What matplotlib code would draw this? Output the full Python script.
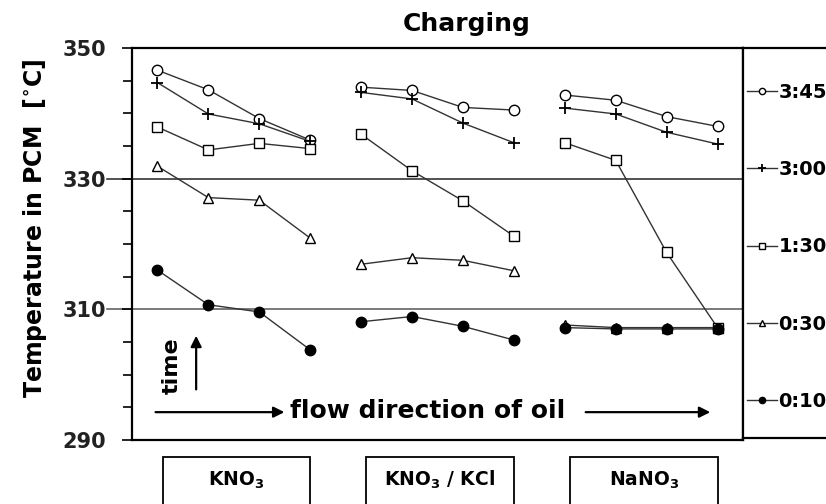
import numpy as np
import matplotlib.pyplot as plt
from matplotlib.patches import Rectangle

# positions along the flow direction (4 sensors per material)
pos = np.arange(12)
groups = ['$\\mathbf{KNO_3}$', '$\\mathbf{KNO_3\\ /\\ KCl}$', '$\\mathbf{NaNO_3}$']

times = ['3:45', '3:00', '1:30', '0:30', '0:10']
t345 = [346.6, 343.6, 339.2, 335.9,  344.0, 343.5, 340.9, 340.5,  342.8, 342.0, 339.5, 338.0]
t300 = [344.7, 339.9, 338.4, 335.7,  343.2, 342.2, 338.5, 335.5,  340.8, 339.9, 337.1, 335.3]
t130 = [337.9, 334.4, 335.4, 334.6,  336.8, 331.2, 326.6, 321.2,  335.5, 332.8, 318.7, 307.2]
t030 = [331.9, 327.1, 326.7, 320.9,  316.9, 317.9, 317.5, 315.9,  307.6, 307.2, 307.2, 307.2]
t010 = [316.0, 310.7, 309.6, 303.8,  308.1, 308.9, 307.4, 305.3,  307.2, 307.0, 307.0, 307.0]
series = [t345, t300, t130, t030, t010]

styles = [dict(marker='o', mfc='white', ms=7.5),
          dict(marker='+', mfc='k', ms=9, mew=1.3),
          dict(marker='s', mfc='white', ms=7),
          dict(marker='^', mfc='white', ms=7.5),
          dict(marker='o', mfc='k', ms=7.5)]

plt.rcParams['font.family'] = 'DejaVu Sans'
plt.rcParams['font.weight'] = 'bold'

fig = plt.figure(figsize=(8.26, 5.04), dpi=100)
ax = fig.add_axes([0.1598, 0.127, 0.7397, 0.7778])

handles = []
for vals, st, lab in zip(series, styles, times):
    for g in range(3):
        sl = slice(4 * g, 4 * g + 4)
        ln, = ax.plot(pos[sl], np.array(vals)[sl], color='#333333', lw=1,
                      mec='k', **st, zorder=3)
    handles.append(ln)

ax.set_xlim(-0.5, 11.5)
ax.set_ylim(290, 350)
ax.set_xticks([])
ax.set_yticks([290, 310, 330, 350])
ax.set_yticks(np.arange(295, 350, 5), minor=True)
ax.tick_params(axis='y', which='major', length=7.5, width=1.2, pad=11, labelsize=15)
ax.tick_params(axis='y', which='minor', length=6.5, width=1.2)
for lab in ax.get_yticklabels():
    lab.set_fontweight('bold')
    lab.set_color('#222222')
for s in ax.spines.values():
    s.set_linewidth(1.6)

# reference lines at 310 / 330 run out to the tick labels
for yv, col in [(310, '#555555'), (330, '#222222')]:
    ax.plot([-0.041, 1], [yv, yv], transform=ax.get_yaxis_transform(),
            color=col, lw=1.1, clip_on=False, zorder=1)

# arrows and notes
arr = dict(arrowstyle='-|>', lw=1.6, color='k', mutation_scale=16)
ax.annotate('', xy=(0.105, 0.273), xytext=(0.105, 0.122), xycoords='axes fraction', arrowprops=arr)
ax.annotate('', xy=(0.254, 0.071), xytext=(0.034, 0.071), xycoords='axes fraction', arrowprops=arr)
ax.annotate('', xy=(0.951, 0.071), xytext=(0.738, 0.071), xycoords='axes fraction', arrowprops=arr)
ax.text(0.065, 0.19, 'time', rotation=90, transform=ax.transAxes, ha='center', va='center',
        fontsize=16, fontweight='bold')
ax.text(0.484, 0.075, 'flow direction of oil', transform=ax.transAxes, ha='center', va='center',
        fontsize=18, fontweight='bold')

# material boxes below the axis
trans = ax.get_xaxis_transform()
for g, name in enumerate(groups):
    c = 1.55 + 4 * g
    ax.add_patch(Rectangle((c - 1.45, -0.25), 2.9, 0.207, transform=trans, fill=False,
                           lw=1.3, ec='k', clip_on=False))
    ax.text(c, -0.102, name, transform=trans, ha='center', va='center', fontsize=13.5)

fig.text(0.565, 0.952, 'Charging', ha='center', va='center', fontsize=18, fontweight='bold')
fig.text(0.042, 0.546, 'Temperature in PCM  [$^{\\circ}$C]', rotation=90, ha='center', va='center',
         fontsize=17, fontweight='bold')

# legend panel on the right
ax2 = fig.add_axes([0.8995, 0.131, 0.2, 0.7738])
ax2.set_xticks([])
ax2.set_yticks([])
ax2.spines['right'].set_visible(False)
for s in ['top', 'bottom', 'left']:
    ax2.spines[s].set_linewidth(1.6)
ax2.legend(handles, times, loc='center left', bbox_to_anchor=(-0.02, 0.49), frameon=False,
           fontsize=14, markerscale=0.6, handlelength=1.5, handletextpad=0.1,
           labelspacing=3.0, borderaxespad=0)

fig.savefig('out.png', dpi=100)
